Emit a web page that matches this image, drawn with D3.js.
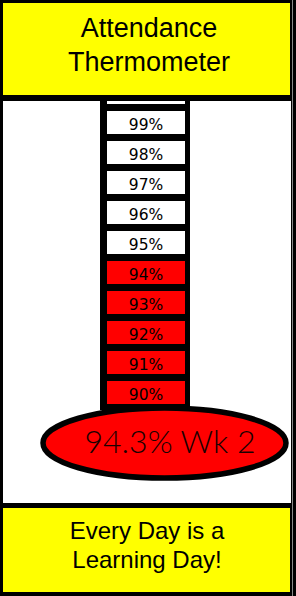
<!DOCTYPE html>
<html>
<head>
<script src="https://d3js.org/d3.v7.min.js"></script>
<style>
    body { margin: 0; background: #fff; }
    svg { display: block; }
</style>
</head>
<body>
<script>
// data
var titleLines = ['Attendance', 'Thermometer'];
var footerLines = ['Every Day is a', 'Learning Day!'];
var levels = [90, 91, 92, 93, 94, 95, 96, 97, 98, 99, 100];
var levelLabels = ['90%', '91%', '92%', '93%', '94%', '95%', '96%', '97%', '98%', '99%', '100%'];
var current = 94.3;
var weekLabel = 'Wk 2';

var width = 296;
var height = 596;

var svg = d3.select('body')
    .append('svg')
    .attr('width', width)
    .attr('height', height);

// frame
svg.append('rect')
    .attr('width', width)
    .attr('height', height)
    .style('fill', '#000');

svg.append('rect')
    .attr('x', 3).attr('y', 101)
    .attr('width', 288).attr('height', 402)
    .style('fill', '#fff');

// tube
var yScale = d3.scaleBand()
    .domain(levels)
    .range([407.5, 77.5])
    .paddingInner(7 / 30)
    .paddingOuter(7 / 60);

svg.append('rect')
    .attr('x', 100).attr('y', 70)
    .attr('width', 90).attr('height', 340)
    .style('fill', '#000');

var cells = svg.append('g').attr('id', 'cells');

cells.selectAll('rect')
    .data(levels)
    .enter()
    .append('rect')
    .attr('x', 107)
    .attr('y', d => yScale(d))
    .attr('width', 78)
    .attr('height', yScale.bandwidth())
    .style('fill', d => d <= current ? '#ff0000' : '#fff');

cells.selectAll('text')
    .data(levels)
    .enter()
    .append('text')
    .attr('x', 146)
    .attr('y', d => yScale(d) + 19)
    .attr('text-anchor', 'middle')
    .style('font-family', '"DejaVu Sans", sans-serif')
    .style('font-size', '15.5px')
    .style('fill', '#000')
    .text((d, i) => levelLabels[i]);

// bulb
svg.append('ellipse')
    .attr('cx', 164.5).attr('cy', 443)
    .attr('rx', 121.5).attr('ry', 35)
    .style('fill', '#ff0000')
    .style('stroke', '#000')
    .style('stroke-width', 5.5);

svg.append('text')
    .attr('x', 170).attr('y', 453)
    .attr('text-anchor', 'middle')
    .style('font-family', 'Lato, sans-serif')
    .style('font-weight', 300)
    .style('font-size', '32px')
    .style('fill', '#1a0000')
    .text(current + '% ' + weekLabel);

// title box (covers top of tube)
svg.append('rect')
    .attr('x', 0).attr('y', 0)
    .attr('width', width).attr('height', 101)
    .style('fill', '#000');
svg.append('rect')
    .attr('x', 3).attr('y', 3)
    .attr('width', 287).attr('height', 92)
    .style('fill', '#ffff00');

svg.append('g')
    .selectAll('text')
    .data(titleLines)
    .enter()
    .append('text')
    .attr('x', 149)
    .attr('y', (d, i) => 37 + i * 34)
    .attr('text-anchor', 'middle')
    .style('font-family', '"Liberation Sans", Arial, sans-serif')
    .style('font-size', '27px')
    .style('fill', '#000')
    .text(d => d);

// footer box
svg.append('rect')
    .attr('x', 3).attr('y', 508)
    .attr('width', 287).attr('height', 84)
    .style('fill', '#ffff00');

svg.append('g')
    .selectAll('text')
    .data(footerLines)
    .enter()
    .append('text')
    .attr('x', 147)
    .attr('y', (d, i) => 539 + i * 29)
    .attr('text-anchor', 'middle')
    .style('font-family', '"Liberation Sans", Arial, sans-serif')
    .style('font-size', '24px')
    .style('fill', '#000')
    .text(d => d);

// thin light line in right border
svg.append('rect')
    .attr('x', 292).attr('y', 0)
    .attr('width', 1).attr('height', height)
    .style('fill', '#888');
</script>
</body>
</html>
